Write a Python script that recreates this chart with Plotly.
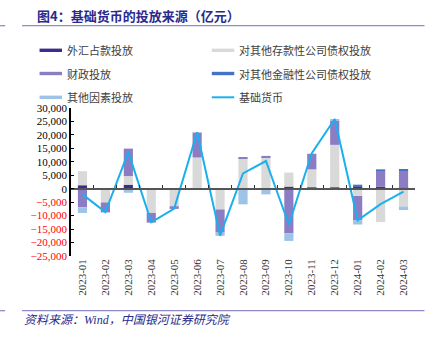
import plotly.graph_objects as go

# ---------------- data (亿元) ----------------
months = ["2023-01", "2023-02", "2023-03", "2023-04", "2023-05", "2023-06", "2023-07",
          "2023-08", "2023-09", "2023-10", "2023-11", "2023-12", "2024-01", "2024-02", "2024-03"]
fx_injection = [1300, 0, 1500, 0, 0, -300, 0, 0, -300, 800, 500, 500, 800, 800, 300]
claims_depository = [5200, -5100, 3200, -9000, -6500, 11600, -7700, 11300, 11700, 5200, 6700, 15800, -2700, -12400, -6600]
fiscal_injection = [-6900, -3700, 10200, -3600, -1000, 9300, -8600, 300, 500, -16600, 5800, 9000, -9000, 5500, 6300]
claims_other_fin = [0, 0, 0, 0, 0, 0, 0, 0, 0, 0, 0, 0, 700, 900, 500]
other_factors = [-2100, 0, -1500, 0, 0, 0, -1200, -5800, -1800, -2800, 0, 600, -1600, 0, -1300]
base_money = [-2100, -8700, 13600, -12500, -7400, 21000, -17400, 5700, 10300, -13300, 13200, 25900, -11700, -5700, -1100]

series_names = ["外汇占款投放", "对其他存款性公司债权投放", "财政投放", "对其他金融性公司债权投放", "其他因素投放"]
line_name = "基础货币"
y_ticks = list(range(-25000, 30001, 5000))

# ---------------- style ----------------
W, H = 437, 339
L, R, T, B = 71, 415.5, 108, 256
colors = ["#3B2D8E", "#D9D9D9", "#8C7CC4", "#4472C4", "#9DC3E6"]
line_color = "#1AB0EE"
navy = "#2B2A8C"
rule_color = "#8F8BCB"
cjk = "Noto Sans CJK SC"
serif = "Liberation Serif"


def px(x):
    return (x - L) / (R - L)


def py(y):
    return (B - y) / (B - T)


fig = go.Figure()
for name, vals, c in zip(series_names,
                         [fx_injection, claims_depository, fiscal_injection, claims_other_fin, other_factors],
                         colors):
    fig.add_trace(go.Bar(x=months, y=vals, name=name, marker=dict(color=c, line=dict(width=0)),
                         showlegend=False))
fig.add_trace(go.Scatter(x=months, y=base_money, name=line_name, mode="lines",
                         line=dict(color=line_color, width=2), xaxis="x2", yaxis="y", showlegend=False))


def fmt(v):
    s = f"{abs(v):,}"
    if v < 0:
        return f"<span style='color:#FF0000'>−{s}</span>"
    return s


ymin, ymax = -25000, 30000
zero_pos = (0 - ymin) / (ymax - ymin)

fig.update_layout(
    width=W, height=H,
    margin=dict(l=L, r=W - R, t=T, b=H - B, pad=0),
    paper_bgcolor="white", plot_bgcolor="white",
    barmode="relative", bargap=0.6,
    xaxis=dict(type="category", showgrid=False, showline=False, ticks="",
               tickangle=-90, tickfont=dict(family=serif, size=11, color="#333333"),
               range=[-0.5, len(months) - 0.5]),
    xaxis2=dict(type="category", matches="x", overlaying="x", anchor="free", position=zero_pos,
                showgrid=False, showline=True, linecolor="#555555", linewidth=2,
                ticks="inside", ticklen=3, tickwidth=1, tickcolor="#333333", tickson="boundaries",
                showticklabels=False, zeroline=False),
    yaxis=dict(range=[ymin, ymax], tickvals=y_ticks, ticktext=[fmt(v) for v in y_ticks],
               showgrid=False, zeroline=False, showline=True, linecolor="black", linewidth=1.5,
               ticks="inside", ticklen=3, tickcolor="black",
               tickfont=dict(family=serif, size=11, color="black")),
    font=dict(family=cjk),
)

shapes = []
annotations = []

# rules
for yy in (25.7, 310.7):
    shapes.append(dict(type="line", xref="paper", yref="paper", x0=px(22), x1=px(425), y0=py(yy), y1=py(yy),
                       line=dict(color=rule_color, width=1.3)))
    shapes.append(dict(type="line", xref="paper", yref="paper", x0=px(0), x1=px(5), y0=py(yy), y1=py(yy),
                       line=dict(color=rule_color, width=1.3)))

# title
annotations.append(dict(text="<b>图4：基础货币的投放来源（亿元）</b>", xref="paper", yref="paper",
                        x=px(35), y=py(16), xanchor="left", yanchor="middle", showarrow=False,
                        font=dict(family=cjk, size=13, color=navy)))
# source
annotations.append(dict(text="<i>资料来源：Wind，中国银河证券研究院</i>", xref="paper", yref="paper",
                        x=px(22), y=py(320), xanchor="left", yanchor="middle", showarrow=False,
                        font=dict(family=serif + ", " + cjk, size=12, color=navy)))

# manual legend
legend_items = [(series_names[0], colors[0], "bar"), (series_names[1], colors[1], "bar"),
                (series_names[2], colors[2], "bar"), (series_names[3], colors[3], "bar"),
                (series_names[4], colors[4], "bar"), (line_name, line_color, "line")]
col_x = [39.5, 212]
row_y = [50.3, 73.5, 97.3]
for i, (name, c, kind) in enumerate(legend_items):
    cx = col_x[i % 2]
    cy = row_y[i // 2]
    if kind == "bar":
        shapes.append(dict(type="rect", xref="paper", yref="paper", x0=px(cx), x1=px(cx + 22.5),
                           y0=py(cy - 1.7), y1=py(cy + 1.7), fillcolor=c, line=dict(width=0)))
    else:
        shapes.append(dict(type="line", xref="paper", yref="paper", x0=px(cx), x1=px(cx + 22.5),
                           y0=py(cy), y1=py(cy), line=dict(color=c, width=2)))
    annotations.append(dict(text=name, xref="paper", yref="paper", x=px(cx + 25.5), y=py(cy),
                            xanchor="left", yanchor="middle", showarrow=False,
                            font=dict(family=cjk, size=11, color="#404040")))

fig.update_layout(shapes=shapes, annotations=annotations)
fig.write_html("out.html")
